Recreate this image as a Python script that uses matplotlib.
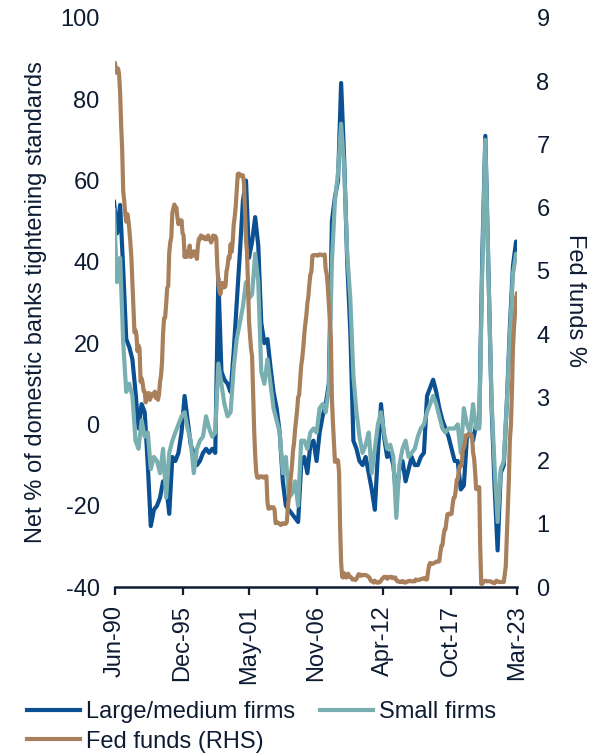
import matplotlib
matplotlib.use("Agg")
import matplotlib.pyplot as plt
import matplotlib.dates as mdates
from matplotlib.lines import Line2D
import pandas as pd

plt.rcParams['font.family'] = ['Liberation Sans', 'DejaVu Sans']
plt.rcParams['axes.unicode_minus'] = False

# Net % of domestic banks tightening C&I standards, quarterly survey (1990Q2 - 2023Q1)
large_medium = [
    55, 47, 54, 38, 21, 19, 16, 8, -1, 5,
    3, -10, -25, -21, -20, -18, -14, -15, -22, -8,
    -9, -7, -2, 7, 1, -5, -7, -10, -9, -7,
    -6, -7, -6, -7, 36, 13, 11, 10, 8, 18,
    30, 42, 55, 60, 41, 45, 51, 44, 25, 20,
    21, 14, 8, 4, -2, -14, -20, -21, -22, -23,
    -24, -10, -8, -12, -5, -4, -9, -2, 2, 5,
    10, 50, 56, 60, 84, 65, 40, 23, -4, -6,
    -9, -10, -8, -12, -16, -21, -7, 5, -3, -8,
    -7, -10, -18, -11, -9, -14, -11, -8, -10, -10,
    -8, -7, 7, 9, 11, 8, 4, 1, -1, -3,
    -6, -9, -9, -16, -15, -3, -2, -4, 0, 0,
    41, 71, 38, 5, -15, -31, -12, -10, 5, 24,
    39, 45,
]

small = [
    53, 35, 41, 20, 8, 10, 7, -4, -6, 1,
    -3, -2, -11, -8, -9, -12, -6, -18, -7, -4,
    -2, 0, 2, 3, -1, -4, -12, -6, -4, -3,
    2, -1, -3, -2, 15, 10, 5, 2, 3, 14,
    21, 25, 29, 35, 31, 32, 42, 35, 13, 10,
    16, 10, 4, 1, -2, -12, -8, -18, -17, -14,
    -20, -4, -4, -6, -2, -1, -2, 4, 5, 3,
    9, 40, 55, 62, 74, 63, 42, 31, 12, 3,
    -3, -7, -5, -2, -12, -6, 0, 3, -2, -6,
    -5, -8, -23, -10, -6, -4, -8, -7, -6, -3,
    -1, 0, 3, 5, 7, 5, 2, -1, -2, -1,
    -1, -1, 0, -7, 4, 0, -2, 5, -1, -1,
    38, 70, 38, 6, -10, -24, -11, -9, 5, 22,
    37, 42,
]

# Effective federal funds rate, monthly (Jun-1990 - Mar-2023)
fed_funds = [
    8.29, 8.15, 8.13, 8.20, 8.11, 7.81, 7.31,
    6.91, 6.25, 6.12, 5.91, 5.78, 5.90, 5.82, 5.66, 5.45, 5.21, 4.81, 4.43,
    4.03, 4.06, 3.98, 3.73, 3.82, 3.76, 3.25, 3.30, 3.22, 3.10, 3.09, 2.92,
    3.02, 3.03, 3.07, 2.96, 3.00, 3.04, 3.06, 3.03, 3.09, 2.99, 3.02, 2.96,
    3.05, 3.25, 3.34, 3.56, 4.01, 4.25, 4.26, 4.47, 4.73, 4.76, 5.29, 5.45,
    5.53, 5.92, 5.98, 6.05, 6.01, 6.00, 5.85, 5.74, 5.80, 5.76, 5.80, 5.60,
    5.56, 5.22, 5.31, 5.22, 5.24, 5.27, 5.40, 5.22, 5.30, 5.24, 5.31, 5.29,
    5.25, 5.19, 5.39, 5.51, 5.50, 5.56, 5.52, 5.54, 5.54, 5.50, 5.52, 5.50,
    5.56, 5.51, 5.49, 5.45, 5.49, 5.56, 5.54, 5.55, 5.51, 5.07, 4.83, 4.68,
    4.63, 4.76, 4.81, 4.74, 4.74, 4.76, 4.99, 5.07, 5.22, 5.20, 5.42, 5.30,
    5.45, 5.73, 5.85, 6.02, 6.27, 6.53, 6.54, 6.50, 6.52, 6.51, 6.51, 6.40,
    5.98, 5.49, 5.31, 4.80, 4.21, 3.97, 3.77, 3.65, 3.07, 2.49, 2.09, 1.82,
    1.73, 1.74, 1.73, 1.75, 1.75, 1.75, 1.73, 1.74, 1.75, 1.75, 1.34, 1.24,
    1.24, 1.26, 1.25, 1.26, 1.26, 1.22, 1.01, 1.03, 1.01, 1.01, 1.00, 0.98,
    1.00, 1.01, 1.00, 1.00, 1.00, 1.03, 1.26, 1.43, 1.61, 1.76, 1.93, 2.16,
    2.28, 2.50, 2.63, 2.79, 3.00, 3.04, 3.26, 3.50, 3.62, 3.78, 4.00, 4.16,
    4.29, 4.49, 4.59, 4.79, 4.94, 4.99, 5.24, 5.25, 5.25, 5.25, 5.25, 5.24,
    5.25, 5.26, 5.26, 5.25, 5.25, 5.25, 5.26, 5.02, 4.94, 4.76, 4.49, 4.24,
    3.94, 2.98, 2.61, 2.28, 1.98, 2.00, 2.01, 2.00, 1.81, 0.97, 0.39, 0.16,
    0.15, 0.22, 0.18, 0.15, 0.18, 0.21, 0.16, 0.16, 0.15, 0.12, 0.12, 0.12,
    0.11, 0.13, 0.16, 0.20, 0.20, 0.18, 0.18, 0.19, 0.19, 0.19, 0.19, 0.18,
    0.17, 0.16, 0.14, 0.10, 0.09, 0.09, 0.07, 0.10, 0.08, 0.07, 0.08, 0.07,
    0.08, 0.10, 0.13, 0.14, 0.16, 0.16, 0.16, 0.13, 0.14, 0.16, 0.16, 0.16,
    0.14, 0.15, 0.14, 0.15, 0.11, 0.09, 0.09, 0.08, 0.08, 0.09, 0.08, 0.09,
    0.07, 0.07, 0.08, 0.09, 0.09, 0.10, 0.09, 0.09, 0.09, 0.09, 0.09, 0.12,
    0.11, 0.11, 0.11, 0.12, 0.12, 0.13, 0.13, 0.14, 0.14, 0.12, 0.12, 0.24,
    0.34, 0.38, 0.36, 0.37, 0.37, 0.38, 0.39, 0.40, 0.40, 0.40, 0.41, 0.54,
    0.65, 0.66, 0.79, 0.90, 0.91, 1.04, 1.15, 1.16, 1.15, 1.15, 1.16, 1.30,
    1.41, 1.42, 1.51, 1.69, 1.70, 1.82, 1.91, 1.91, 1.95, 2.19, 2.20, 2.27,
    2.40, 2.40, 2.41, 2.42, 2.39, 2.38, 2.40, 2.13, 2.04, 1.83, 1.55, 1.55,
    1.55, 1.58, 0.65, 0.05, 0.05, 0.08, 0.09, 0.10, 0.09, 0.09, 0.09, 0.09,
    0.09, 0.08, 0.07, 0.07, 0.06, 0.08, 0.10, 0.09, 0.08, 0.08, 0.08, 0.08,
    0.08, 0.08, 0.20, 0.33, 0.77, 1.21, 1.68, 2.33, 2.56, 3.08, 3.78, 4.10,
    4.33, 4.57, 4.65,
]

tick_labels = ['Jun-90', 'Dec-95', 'May-01', 'Nov-06', 'Apr-12', 'Oct-17', 'Mar-23']
left_ticks = [-40, -20, 0, 20, 40, 60, 80, 100]
right_ticks = list(range(0, 10))

survey_dates = pd.date_range('1990-05-01', periods=len(large_medium), freq='3MS')
fed_dates = pd.date_range('1990-06-01', periods=len(fed_funds), freq='MS')
tick_dates = pd.to_datetime(tick_labels, format='%b-%y')

BLUE = '#0a5092'
TEAL = '#7aafb1'
BROWN = '#a8805c'
NAVY = '#0e1c33'
FS = 17
LW = 3.0

fig = plt.figure(figsize=(5.91, 7.53), dpi=100)
W, H = 591, 753
ax = fig.add_axes([115 / W, 1 - 587 / H, (517 - 115) / W, (587 - 18) / H])

ax.plot(survey_dates, large_medium, color=BLUE, lw=LW, solid_joinstyle='round',
        solid_capstyle='round', zorder=2)
ax.plot(survey_dates, small, color=TEAL, lw=LW, solid_joinstyle='round',
        solid_capstyle='round', zorder=3)
ax.set_ylim(-40, 100)
ax.set_yticks(left_ticks)
ax.set_xlim(fed_dates[0], fed_dates[-1])
ax.set_xticks(tick_dates)
ax.xaxis.set_major_formatter(mdates.DateFormatter('%b-%y'))

ax2 = ax.twinx()
ax2.plot(fed_dates, fed_funds, color=BROWN, lw=LW, solid_joinstyle='round',
         solid_capstyle='round')
ax2.set_ylim(0, 9)
ax2.set_yticks(right_ticks)
ax2.set_xlim(fed_dates[0], fed_dates[-1])

for a in (ax, ax2):
    for s in ('top', 'left', 'right'):
        a.spines[s].set_visible(False)
ax2.spines['bottom'].set_visible(False)
ax.spines['bottom'].set_color(NAVY)
ax.spines['bottom'].set_linewidth(1.8)

ax.tick_params(axis='y', length=0, pad=11, labelsize=FS, labelcolor=NAVY)
ax2.tick_params(axis='y', length=0, pad=14, labelsize=FS, labelcolor=NAVY)
ax.tick_params(axis='x', direction='out', length=6, width=1.6, color=NAVY,
               pad=7, labelsize=FS, labelcolor=NAVY, labelrotation=90)

fig.text(36 / W, 1 - 302 / H, 'Net % of domestic banks tightening standards',
         rotation=90, ha='center', va='center', fontsize=FS, color=NAVY)
fig.text(575 / W, 1 - 300 / H, 'Fed funds %', rotation=-90,
         ha='center', va='center', fontsize=FS, color=NAVY)

handles = [Line2D([], [], color=BLUE, lw=LW),
           Line2D([], [], color=BROWN, lw=LW),
           Line2D([], [], color=TEAL, lw=LW)]
labels = ['Large/medium firms', 'Fed funds (RHS)', 'Small firms']
fig.legend(handles, labels, ncol=2, loc='upper left',
           bbox_to_anchor=(27 / W, 1 - 701 / H), frameon=False,
           fontsize=FS, labelcolor=NAVY, borderpad=0, borderaxespad=0,
           handlelength=2.25, handletextpad=0.25, columnspacing=1.05,
           labelspacing=0.32)

fig.savefig('out.png', dpi=100)
